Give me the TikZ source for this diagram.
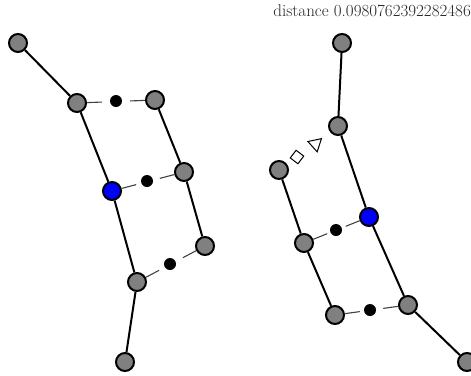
\documentclass[tikz,border=0pt]{standalone}
\usetikzlibrary{shapes.geometric,calc}
\definecolor{ngray}{RGB}{128,128,128}
\begin{document}
\begin{tikzpicture}[x=1pt,y=-1pt,
  vtx/.style={circle,draw=black,fill=ngray,line width=2pt,minimum size=18pt,inner sep=0pt},
  bvtx/.style={vtx,fill=blue},
  dotn/.style={circle,fill=black,minimum size=12pt,inner sep=0pt},
  edge/.style={line width=2pt},
  link/.style={line width=1.1pt,draw=black!75},
  sq/.style={diamond,draw=black,line width=1pt,minimum size=14pt,inner sep=0pt,rotate=8},
  tri/.style={regular polygon,regular polygon sides=3,draw=black,line width=1pt,minimum size=16pt,inner sep=0pt}]
\useasboundingbox (0,0) rectangle (471,375);
\node[anchor=east,inner sep=0pt,text=black!85] (t) at (471,11) {\fontsize{17}{20}\selectfont distance 0.0980762392282486};
% left
\node[vtx] (a1) at (18,43) {};
\node[vtx] (a2) at (77,103) {};
\node[vtx] (a3) at (155,100) {};
\node[bvtx] (b) at (112,191) {};
\node[vtx] (a4) at (184,172) {};
\node[vtx] (a5) at (205,246) {};
\node[vtx] (a6) at (137,282) {};
\node[vtx] (a7) at (125,362) {};
\draw[edge] (a1) -- (a2);
\draw[edge] (a2) -- (b);
\draw[edge] (b) -- (a6);
\draw[edge] (a6) -- (a7);
\draw[edge] (a3) -- (a4);
\draw[edge] (a4) -- (a5);
\draw[link] (a2) -- ($(a2)!25pt!(a3)$);
\draw[link] (a3) -- ($(a3)!25pt!(a2)$);
\node[dotn] (d1) at (116,101) {};
\draw[link] (b) -- ($(b)!25pt!(a4)$);
\draw[link] (a4) -- ($(a4)!25pt!(b)$);
\node[dotn] (d2) at (147,181) {};
\draw[link] (a6) -- ($(a6)!25pt!(a5)$);
\draw[link] (a5) -- ($(a5)!25pt!(a6)$);
\node[dotn] (d3) at (170,264) {};
% right
\node[vtx] (c1) at (342,43) {};
\node[vtx] (c2) at (338,126) {};
\node[vtx] (c3) at (279,170) {};
\node[bvtx] (bb) at (369,217) {};
\node[vtx] (c4) at (304,243) {};
\node[vtx] (c5) at (408,305) {};
\node[vtx] (c6) at (335,315) {};
\node[vtx] (c7) at (467,362) {};
\draw[edge] (c1) -- (c2);
\draw[edge] (c2) -- (bb);
\draw[edge] (bb) -- (c5);
\draw[edge] (c5) -- (c7);
\draw[edge] (c3) -- (c4);
\draw[edge] (c4) -- (c6);
\draw[link] (c4) -- ($(c4)!25pt!(bb)$);
\draw[link] (bb) -- ($(bb)!25pt!(c4)$);
\node[dotn] (d4) at (336,230) {};
\draw[link] (c6) -- ($(c6)!25pt!(c5)$);
\draw[link] (c5) -- ($(c5)!25pt!(c6)$);
\node[dotn] (d5) at (370,310) {};
\node[sq] (s) at (297,157) {};
\node[tri,rotate=-48] (tr) at (315.5,144) {};
\end{tikzpicture}
\end{document}
